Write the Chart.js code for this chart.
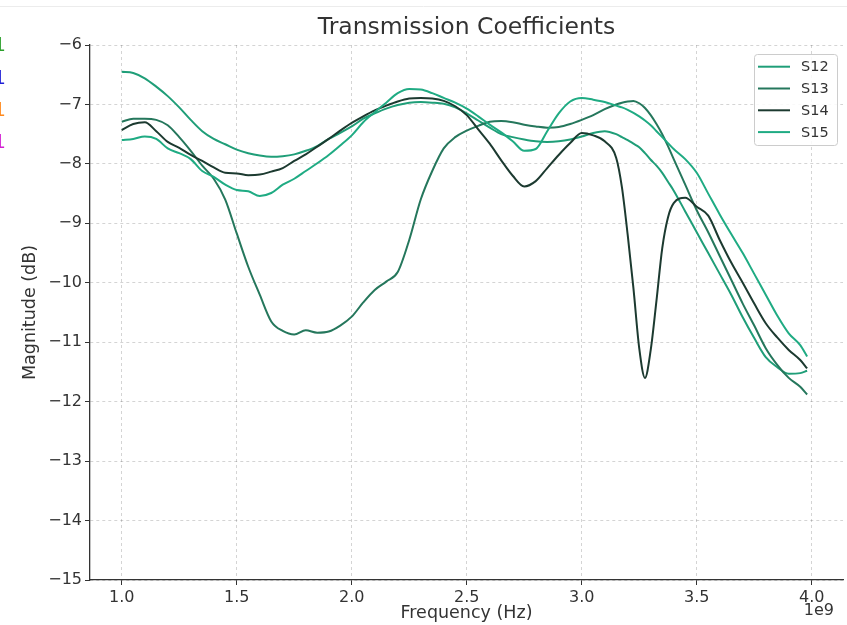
<!DOCTYPE html>
<html>
<head>
<meta charset="utf-8">
<title>Transmission Coefficients</title>
<script src="https://cdn.jsdelivr.net/npm/chart.js@4/dist/chart.umd.min.js"></script>
<style>
  html, body { margin: 0; padding: 0; background: #fff; }
  #wrap { width: 847px; height: 625px; position: relative; }
</style>
</head>
<body>
<div id="wrap"><canvas id="chartCanvas" width="847" height="625"></canvas></div>
<script>
// frequency in units of 1e9 Hz (axis shows the 1e9 offset)
const freqGHz = [
  1.00, 1.05, 1.10, 1.15, 1.20, 1.25, 1.30, 1.35, 1.40, 1.45,
  1.50, 1.55, 1.60, 1.65, 1.70, 1.75, 1.80, 1.85, 1.90, 1.95,
  2.00, 2.05, 2.10, 2.15, 2.20, 2.25, 2.30, 2.35, 2.40, 2.45,
  2.50, 2.55, 2.60, 2.65, 2.70, 2.75, 2.80, 2.85, 2.90, 2.95,
  3.00, 3.05, 3.10, 3.15,
  3.175, 3.20, 3.225, 3.25, 3.275, 3.30, 3.325, 3.35, 3.375, 3.40,
  3.45, 3.50, 3.55, 3.60, 3.65, 3.70, 3.75, 3.80, 3.85, 3.90, 3.95,
  3.98
];

const s12 = [
  -6.45, -6.47, -6.56, -6.70, -6.86, -7.05, -7.26, -7.45, -7.58, -7.67,
  -7.76, -7.82, -7.86, -7.88, -7.87, -7.84, -7.78, -7.70, -7.58, -7.48,
  -7.37, -7.24, -7.15, -7.07, -7.01, -6.97, -6.96, -6.97, -6.99, -7.05,
  -7.15, -7.27, -7.39, -7.50, -7.55, -7.59, -7.62, -7.63, -7.62, -7.59,
  -7.54, -7.48, -7.45, -7.50,
  -7.55, -7.60, -7.66, -7.72, -7.82, -7.93, -8.03, -8.15, -8.30, -8.45,
  -8.80, -9.15, -9.50, -9.85, -10.20, -10.58, -10.93, -11.25, -11.42, -11.53, -11.52,
  -11.48
];

const s13 = [
  -7.29, -7.24, -7.24, -7.26, -7.35, -7.55, -7.78, -8.03, -8.25, -8.60,
  -9.17, -9.73, -10.20, -10.65, -10.81, -10.87, -10.80, -10.84, -10.82, -10.72,
  -10.57, -10.33, -10.12, -9.98, -9.82, -9.28, -8.60, -8.12, -7.74, -7.55,
  -7.44, -7.36, -7.29, -7.28, -7.30, -7.34, -7.37, -7.39, -7.38, -7.33,
  -7.26, -7.18, -7.08, -7.00,
  -6.97, -6.95, -6.94, -6.98, -7.06, -7.18, -7.33, -7.50, -7.70, -7.92,
  -8.35, -8.78, -9.15, -9.55, -9.95, -10.35, -10.72, -11.10, -11.38, -11.60, -11.75,
  -11.88
];

const s14 = [
  -7.43, -7.33, -7.30, -7.45, -7.63, -7.73, -7.85, -7.95, -8.06, -8.15,
  -8.16, -8.19, -8.18, -8.13, -8.07, -7.95, -7.84, -7.71, -7.58, -7.44,
  -7.31, -7.20, -7.10, -7.02, -6.95, -6.90, -6.89, -6.90, -6.94, -7.03,
  -7.18, -7.42, -7.66, -7.94, -8.20, -8.38, -8.29, -8.07, -7.85, -7.65,
  -7.48, -7.52, -7.62, -7.90,
  -8.40, -9.20, -10.10, -11.10, -11.60, -11.13, -10.30, -9.42, -8.90, -8.66,
  -8.57, -8.72, -8.87, -9.28, -9.66, -10.00, -10.35, -10.68, -10.92, -11.13, -11.30,
  -11.44
];

const s15 = [
  -7.60, -7.58, -7.54, -7.58, -7.74, -7.82, -7.92, -8.12, -8.22, -8.35,
  -8.44, -8.46, -8.54, -8.49, -8.35, -8.25, -8.12, -7.99, -7.85, -7.69,
  -7.52, -7.30, -7.13, -6.97, -6.81, -6.74, -6.75, -6.81, -6.89, -6.97,
  -7.07, -7.20, -7.34, -7.47, -7.62, -7.78, -7.75, -7.45, -7.15, -6.95,
  -6.89, -6.92, -6.96, -7.02,
  -7.05, -7.09, -7.14, -7.20, -7.27, -7.35, -7.45, -7.55, -7.65, -7.75,
  -7.92, -8.15, -8.50, -8.85, -9.18, -9.50, -9.85, -10.20, -10.55, -10.85, -11.05,
  -11.24
];

const seriesNames = ['S12', 'S13', 'S14', 'S15'];
const seriesColors = ['#1f9e78', '#25775c', '#1c3a30', '#1fab83'];
const xTicks = [1.0, 1.5, 2.0, 2.5, 3.0, 3.5, 4.0];
const yTicks = [-15, -14, -13, -12, -11, -10, -9, -8, -7, -6];

const FONT = '"DejaVu Sans", "Liberation Sans", sans-serif';
Chart.defaults.font.family = FONT;

const overlay = {
  id: 'overlay',
  afterDraw(chart) {
    const { ctx, chartArea } = chart;
    ctx.save();

    // faint rule at the very top of the image
    ctx.strokeStyle = '#ececec';
    ctx.lineWidth = 1;
    ctx.beginPath();
    ctx.moveTo(0, 6.5);
    ctx.lineTo(847, 6.5);
    ctx.stroke();

    // clipped glyphs from a neighbouring figure at the left edge
    ctx.font = '20px ' + FONT;
    ctx.textAlign = 'right';
    ctx.textBaseline = 'middle';
    [['#2ca02c', 46], ['#1f1fd6', 79], ['#ff8a1e', 111], ['#d21fd2', 143]].forEach(([c, y]) => {
      ctx.fillStyle = c;
      ctx.fillText('1', 6, y);
    });

    // title
    ctx.fillStyle = '#333';
    ctx.font = '23.5px ' + FONT;
    ctx.textAlign = 'center';
    ctx.fillText('Transmission Coefficients', (chartArea.left + chartArea.right) / 2, 28);

    // axis offset text
    ctx.font = '16px ' + FONT;
    ctx.textAlign = 'right';
    ctx.fillText('1e9', 834, 611);

    // legend
    const bx = 754, by = 54, bw = 83, bh = 91;
    ctx.fillStyle = 'rgba(255,255,255,0.85)';
    ctx.strokeStyle = '#cccccc';
    ctx.beginPath();
    ctx.roundRect(bx + 0.5, by + 0.5, bw, bh, 3);
    ctx.fill();
    ctx.stroke();
    ctx.font = '14.5px ' + FONT;
    ctx.textAlign = 'left';
    chart.data.datasets.forEach((ds, i) => {
      const y = 66.7 + i * 21.8;
      ctx.strokeStyle = ds.borderColor;
      ctx.lineWidth = 2;
      ctx.beginPath();
      ctx.moveTo(758, y);
      ctx.lineTo(790, y);
      ctx.stroke();
      ctx.fillStyle = '#333';
      ctx.fillText(ds.label, 801, y + 1);
    });

    ctx.restore();
  }
};

const ctx = document.getElementById('chartCanvas').getContext('2d');
new Chart(ctx, {
  type: 'line',
  data: {
    datasets: [s12, s13, s14, s15].map((vals, i) => ({
      label: seriesNames[i],
      data: freqGHz.map((f, k) => ({ x: f, y: vals[k] })),
      borderColor: seriesColors[i],
      backgroundColor: seriesColors[i],
      borderWidth: 2,
      pointRadius: 0,
      fill: false,
      cubicInterpolationMode: 'monotone',
      order: 4 - i
    }))
  },
  options: {
    responsive: false,
    animation: false,
    layout: { padding: { top: 45, right: 4, bottom: 0, left: 0 } },
    plugins: {
      legend: { display: false },
      title: { display: false },
      tooltip: { enabled: false }
    },
    scales: {
      x: {
        type: 'linear',
        min: 0.862,
        max: 4.136,
        afterBuildTicks: axis => { axis.ticks = xTicks.map(v => ({ value: v })); },
        afterFit: scale => { scale.height = 45; },
        ticks: {
          callback: v => Number(v).toFixed(1),
          color: '#333',
          font: { size: 16 },
          padding: 3,
          maxRotation: 0
        },
        grid: { color: 'rgba(0,0,0,0.17)', tickColor: '#333', tickLength: 5, tickWidth: 1 },
        border: { display: true, color: '#333', width: 1.3, dash: [3, 3] },
        title: {
          display: true,
          text: 'Frequency (Hz)',
          color: '#333',
          font: { size: 17.5 },
          padding: { top: 0, bottom: 1 }
        }
      },
      y: {
        type: 'linear',
        min: -15,
        max: -6,
        afterBuildTicks: axis => { axis.ticks = yTicks.map(v => ({ value: v })); },
        afterFit: scale => { scale.width = 90; },
        ticks: {
          callback: v => (v < 0 ? '\u2212' : '') + Math.abs(v),
          color: '#333',
          font: { size: 16 },
          padding: 3
        },
        grid: { color: 'rgba(0,0,0,0.17)', tickColor: '#333', tickLength: 5, tickWidth: 1 },
        border: { display: true, color: '#333', width: 1.3, dash: [3, 3] },
        title: {
          display: true,
          text: 'Magnitude (dB)',
          color: '#333',
          font: { size: 17.5 },
          padding: { top: 20, bottom: 0 }
        }
      }
    }
  },
  plugins: [overlay]
});
</script>
</body>
</html>
